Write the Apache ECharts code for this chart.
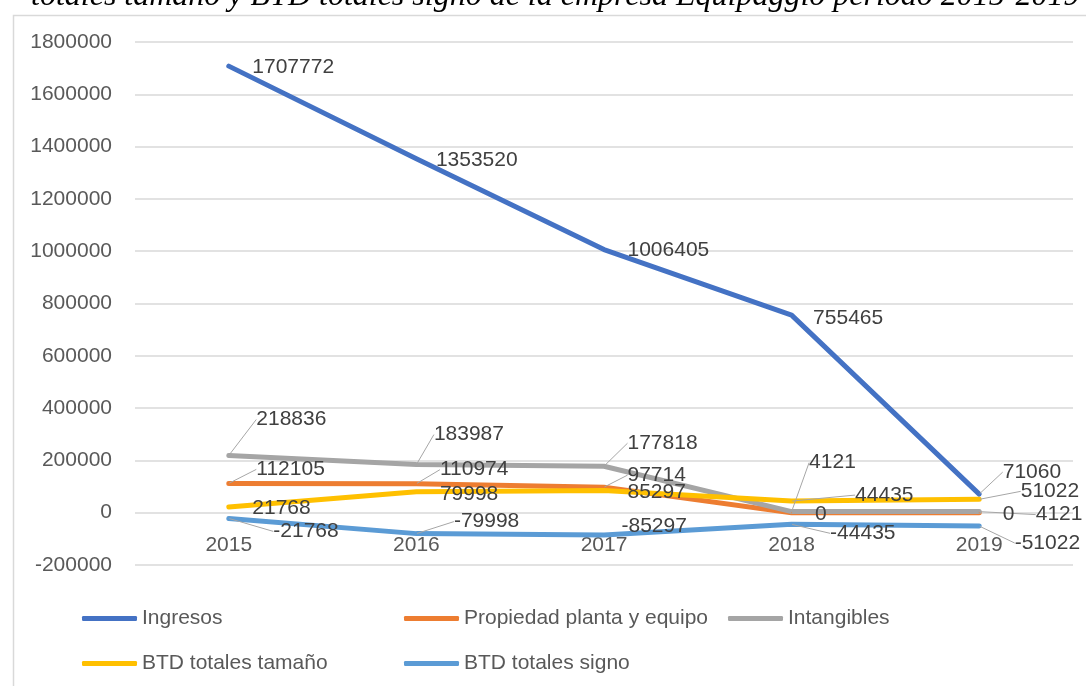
<!DOCTYPE html>
<html>
<head>
	<meta charset="utf-8">
	<style>
		html, body {
			margin: 0;
			padding: 0;
			background: #fff;
		}
		#chart {
			width: 1086px;
			height: 686px;
		}
	</style>
</head>
<body>
	<div id="chart"></div>
	<script src="https://cdn.jsdelivr.net/npm/echarts@6/dist/echarts.min.js"></script>
	<script>
	// datos
	var years = ['2015', '2016', '2017', '2018', '2019'];
	var ingresos = [1707772, 1353520, 1006405, 755465, 71060];
	var propiedad = [112105, 110974, 97714, 0, 0];
	var intangibles = [218836, 183987, 177818, 4121, 4121];
	var btdTamano = [21768, 79998, 85297, 44435, 51022];
	var btdSigno = [-21768, -79998, -85297, -44435, -51022];
	var seriesNames = ['Ingresos', 'Propiedad planta y equipo', 'Intangibles', 'BTD totales tamaño', 'BTD totales signo'];

	// desplazamiento de las etiquetas (dx, dy) como en el original
	var labelShift = [
		[[18, 1], [14, 1], [18, 1], [16, 3], [18, -22]],
		[[22, -14], [18, -14], [18, -12], [18, 2], [18, 2]],
		[[22, -36], [12, -30], [18, -23], [12, -49], [51, 3]],
		[[18, 1], [18, 2], [18, 2], [58, -6], [36, -8]],
		[[39, 13], [32, -12], [12, -9], [33, 9], [30, 17]]
	];
	var colors = ['#4472C4', '#ED7D31', '#A5A5A5', '#FFC000', '#5B9BD5'];
	var allData = [ingresos, propiedad, intangibles, btdTamano, btdSigno];

	var makeSeries = function(idx) {
		var shift = labelShift[idx];
		return {
			name: seriesNames[idx],
			type: 'line',
			data: allData[idx].map(function(v, i) {
				var moved = Math.abs(shift[i][0]) + Math.abs(shift[i][1]) > 25;
				return { value: v, labelLine: { show: moved } };
			}),
			symbol: 'circle',
			symbolSize: 1,
			showSymbol: true,
			lineStyle: { width: 5, color: colors[idx], cap: 'round', join: 'round' },
			itemStyle: { color: colors[idx] },
			label: {
				show: true,
				position: 'right',
				distance: 5,
				fontFamily: 'Liberation Sans',
				fontSize: 21,
				color: '#404040'
			},
			labelLine: {
				show: false,
				lineStyle: { color: '#A6A6A6', width: 1 }
			},
			labelLayout: function(params) {
				var s = shift[params.dataIndex];
				return { dx: s[0], dy: s[1] };
			},
			animation: false
		};
	};

	// una leyenda por columna, como en Excel
	var makeLegend = function(names, left) {
		return {
			data: names,
			orient: 'vertical',
			left: left,
			top: 608,
			padding: 0,
			itemGap: 24,
			itemWidth: 55,
			itemHeight: 5,
			icon: 'roundRect',
			textStyle: {
				fontFamily: 'Liberation Sans',
				fontSize: 21,
				color: '#595959'
			}
		};
	};

	var chart = echarts.init(document.getElementById('chart'));
	chart.setOption({
		color: colors,
		title: {
			text: 'totales tamaño y BTD totales signo de la empresa Equipaggio periodo 2015-2019',
			left: 31,
			top: -19,
			padding: 0,
			textStyle: {
				fontFamily: 'Liberation Serif',
				fontStyle: 'italic',
				fontWeight: 'normal',
				fontSize: 32,
				color: '#000'
			}
		},
		graphic: [{
			type: 'rect',
			left: 11,
			top: 13,
			shape: { width: 1100, height: 700 },
			style: { fill: 'none', stroke: '#D9D9D9', lineWidth: 1.5 },
			silent: true,
			z: -1
		}],
		grid: {
			left: 135,
			right: 13,
			top: 42,
			bottom: 121
		},
		legend: [
			makeLegend([seriesNames[0], seriesNames[3]], 82),
			makeLegend([seriesNames[1], seriesNames[4]], 404),
			makeLegend([seriesNames[2]], 728)
		],
		xAxis: {
			type: 'category',
			data: years,
			axisLine: { show: false },
			axisTick: { show: false },
			axisLabel: {
				margin: -30,
				fontFamily: 'Liberation Sans',
				fontSize: 21,
				color: '#595959'
			}
		},
		yAxis: {
			type: 'value',
			min: -200000,
			max: 1800000,
			interval: 200000,
			axisLine: { show: false },
			axisTick: { show: false },
			splitLine: { lineStyle: { color: '#D9D9D9', width: 1.5 } },
			axisLabel: {
				margin: 23,
				fontFamily: 'Liberation Sans',
				fontSize: 21,
				color: '#595959',
				formatter: function(v) { return String(v); }
			}
		},
		series: [0, 1, 2, 3, 4].map(makeSeries)
	});
	</script>
</body>
</html>
